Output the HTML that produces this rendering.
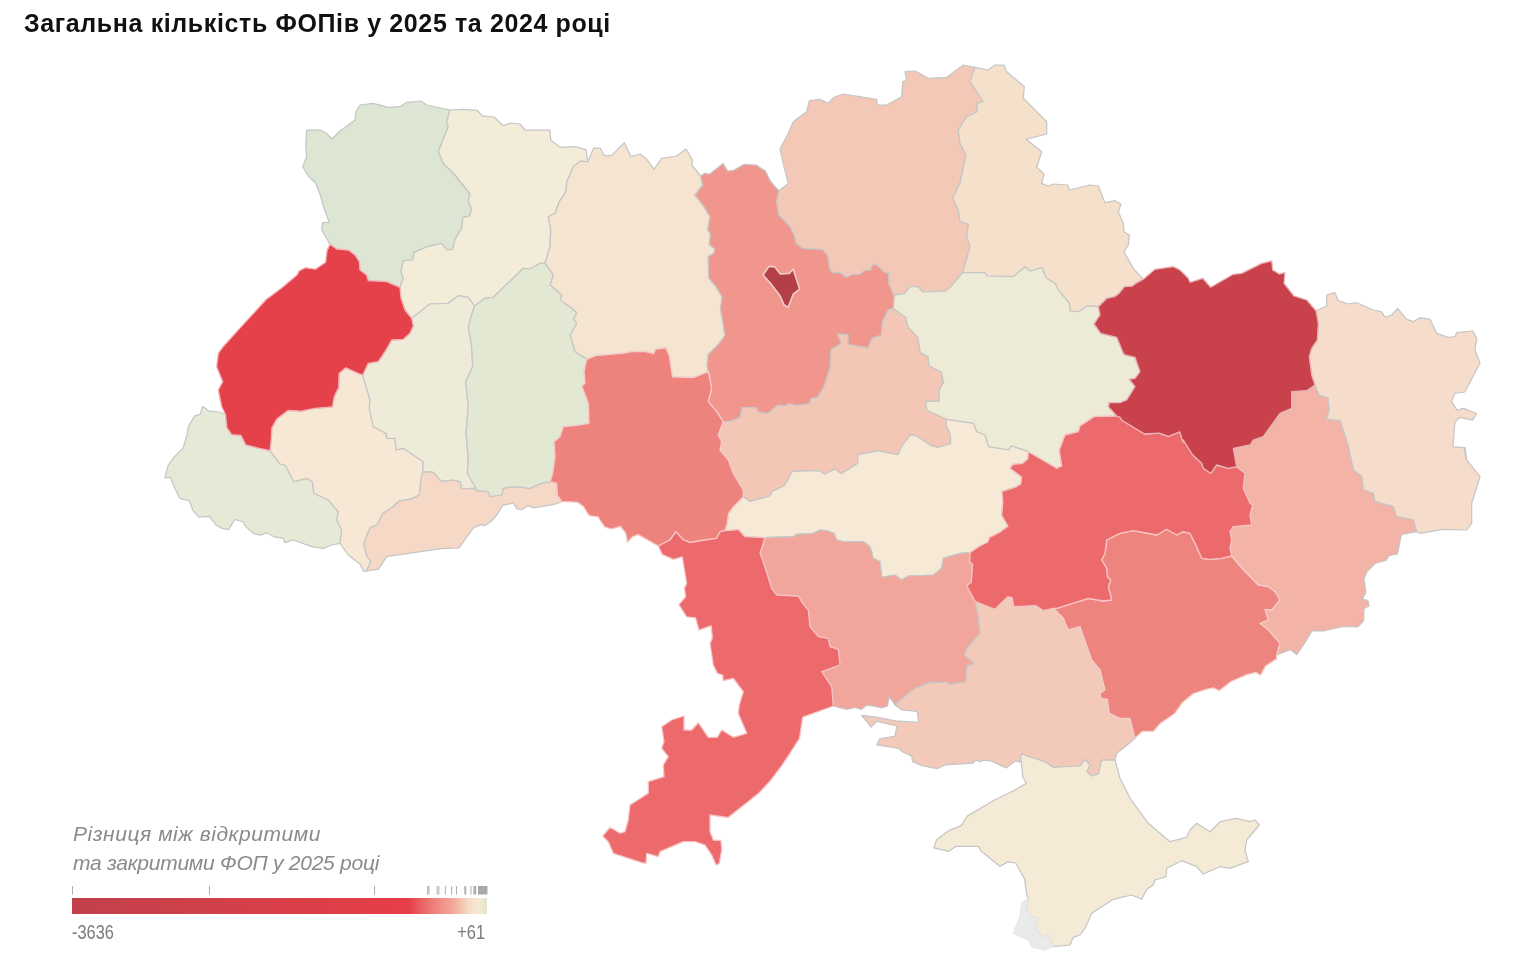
<!DOCTYPE html>
<html lang="uk">
<head>
<meta charset="utf-8">
<title>Загальна кількість ФОПів у 2025 та 2024 році</title>
<style>
html,body{margin:0;padding:0;background:#fff;}
body{width:1530px;height:975px;position:relative;overflow:hidden;font-family:"Liberation Sans",sans-serif;}
h1{position:absolute;left:24px;top:8px;margin:0;font-size:25px;line-height:30px;font-weight:700;color:#111;white-space:nowrap;letter-spacing:0.62px;}
svg.map{position:absolute;left:0;top:0;}
svg.map path{stroke:#c6c6c6;stroke-width:1.25;stroke-linejoin:round;}
.legend{position:absolute;left:72px;top:820px;width:415px;}
.legend .t{font-style:italic;font-size:21px;line-height:28px;color:#8a8a8a;white-space:nowrap;}
.legend .bar{position:absolute;left:0;top:78px;width:415px;height:16px;background:linear-gradient(90deg,#c1414b 0%,#e63e47 81%,#ee7a76 86.5%,#f2a99c 92%,#f5dcc4 95.5%,#f5ead3 98%,#dfe5cc 100%);}
.legend .lab{position:absolute;top:100px;font-size:19.5px;line-height:24px;color:#7a7a7a;transform:scaleX(0.84);}
</style>
</head>
<body>
<h1>Загальна кількість ФОПів у 2025 та 2024 році</h1>
<svg class="map" width="1530" height="975" viewBox="0 0 1530 975">
<path fill="#dde6d2" d="M330 244.3L321.7 230L322.7 222.3L329.3 222.3L324.3 209.3L320 194L315.7 183.3L308.3 176L302.7 166.7L306.7 156.7L305.7 146.7L306.7 130L320 130L326.7 133.3L331.7 139L340 131L348.3 125L355 120L356 111.7L360 105L373.3 103.3L388.3 107.3L400 106.7L406.7 102.3L421 101L426.7 105L450 110L446.7 121.7L448.3 126.7L438.3 151.7L443.3 163.3L455 175L470 194L468.3 200.7L471.7 209.3L469.3 216L462.7 217.7L461.7 228.3L455 239.3L452.7 249.3L446.7 250L441.7 243.3L427.3 246.7L414 252.3L412.7 260L403.3 260.7L401 271.7L403.3 278.3L400 287.3L386.7 281.7L368.3 280.7L366.7 275L360 270L359.3 261.7L355 255L348.3 250L336.7 249Z"/>
<path fill="#f3ecd8" d="M450 110L463.5 109.4L477.1 110.3L482.4 115.9L493.9 117L503.3 125.6L511 123L520 124L525 130L550 130L550.7 140L560 147.3L575 146.7L586 149.7L587.7 161.9L580.7 161L573.3 166.7L566.7 181.7L566 191.7L559.3 201.7L555 213.3L548.3 216.7L550.7 230L550 246.7L545 263.3L540 263.3L530 269L523.3 268.3L493.3 297.3L485 298.3L474.3 306L468.3 297.3L458.3 295.7L448.3 303.3L430 304L411.7 318.3L405 310L401 298.3L400 287.3L403.3 278.3L401 271.7L403.3 260.7L412.7 260L414 252.3L427.3 246.7L441.7 243.3L446.7 250L452.7 249.3L455 239.3L461.7 228.3L462.7 217.7L469.3 216L471.7 209.3L468.3 200.7L470 194L455 175L443.3 163.3L438.3 151.7L448.3 126.7L446.7 121.7Z"/>
<path fill="#e6e9d5" d="M340 543.3L331.7 545L323.3 548.3L311.7 546.7L293.3 540L285 542.7L283.3 538.3L274 536.8L266.9 532.8L259.9 535.2L253.6 533.6L245.7 526.6L243.4 521.9L234.8 519.5L228.5 529.7L221.4 528.1L215.9 525L209.6 516.4L198.7 517.1L193.2 510.9L189.2 500.7L179.8 498.3L174.3 487.3L170.4 477.1L164.9 477.9L168.1 465.3L175.1 455.9L183 448.1L186.9 435.5L188.5 426.1L194.7 415.9L200.2 414.3L202.6 406.5L209.6 411.2L219.1 412L225.5 414.5L226.9 427.7L231.6 434.7L241 435.5L245.7 444.9L258.3 448.1L270 450.7L280 464L285 465L294 481.7L306.7 478.3L312.3 481.7L314 493.3L328.3 500L338.3 511.7L336.7 520L341.7 530Z"/>
<path fill="#f6e8d4" d="M366.7 571L364 571.7L360 564L348.3 555L340 543.3L341.7 530L336.7 520L338.3 511.7L328.3 500L314 493.3L312.3 481.7L306.7 478.3L294 481.7L285 465L280 464L270 450.7L271.3 439L271.9 427.9L276.8 419L288 410.5L301.3 411.2L314.7 408.3L332.5 406.8L334.2 396.8L338.7 387.4L339.1 373.4L345.8 367.8L358 373.4L362.7 375L370 400L369.3 408.3L373.3 426.7L386 433.3L386.7 438.3L395 438.3L396 450L403.3 448.3L423.3 461.7L422.7 471.7L420.7 480.8L419.5 494.9L411.6 498.9L399.1 501.2L392 507.5L382.6 513.8L377.1 524.8L370 527.9L363.7 543.6L366.9 556.2L370.8 560.9Z"/>
<path fill="#eeecd8" d="M362.7 375L368.3 363.3L378.3 361.7L385 351.7L391.7 340L403.3 339.3L410 333.3L413.3 326L411.7 318.3L430 304L448.3 303.3L458.3 295.7L468.3 297.3L474.3 306L471.7 315L468.3 326.7L471.7 346.7L472.7 366.7L465.7 381.7L468.3 406.7L466 433.3L468.3 460L467.3 473.3L475 486.7L476.7 490.7L473.3 488.3L461.7 489L460 481.7L451.7 480L441.7 481.7L433.3 472.3L422.7 471.7L423.3 461.7L403.3 448.3L396 450L395 438.3L386.7 438.3L386 433.3L373.3 426.7L369.3 408.3L370 400Z"/>
<path fill="#f5d8c5" d="M561.7 501.7L553.5 504.6L533.5 507.9L527.9 505.7L521.9 509.5L516.8 509L513.5 502.8L502.4 505.7L497.9 513.5L491.2 521.3L484.6 525.7L481.2 524.6L473.4 527.9L459 548L441.2 548.6L422.3 551.3L386.7 556.7L378.3 569.3L366.7 571L370.8 560.9L366.9 556.2L363.7 543.6L370 527.9L377.1 524.8L382.6 513.8L392 507.5L399.1 501.2L411.6 498.9L419.5 494.9L420.7 480.8L422.7 471.7L433.3 472.3L441.7 481.7L451.7 480L460 481.7L461.7 489L473.3 488.3L476.7 490.7L488.3 491.7L490 496.7L501.7 495L503.3 488.3L509 487.2L520.2 486.8L529.1 488.6L533.5 486.8L541.3 483.4L550 481.7L556.7 483.3L557.3 495Z"/>
<path fill="#f5e5d0" d="M587.7 161.9L593.7 147.9L600.4 148.3L604.2 155.6L611.5 155.6L624.3 142.7L631 156.7L640 154L646.7 159.3L654 169.3L661.7 158.3L676.7 156L686 149L692.7 160L691.7 165L700.7 176L702.7 185L695 195L704 206.7L710 216.7L707.7 230L710.4 233.4L709.3 244.5L714.9 248.9L713.7 253.4L708.2 256.7L708.8 277.9L716 286.8L722.2 296.8L720.4 309L722.2 317.9L724.9 335.7L718.2 344.6L708.2 354.6L707.1 365.7L708.3 371.7L693.7 377.5L672.6 376.9L669.2 355.7L665.9 347.9L655.9 349.1L653.7 353.5L644.8 351.3L631.4 351.7L624.7 353.1L595.8 355.7L586.7 359.3L575 351.7L570 335L576.7 323.3L573.3 318.3L576.7 313.3L571.7 308.3L560 300L561.7 295L550 285L553.3 275L545 263.3L550 246.7L550.7 230L548.3 216.7L555 213.3L559.3 201.7L566 191.7L566.7 181.7L573.3 166.7L580.7 161Z"/>
<path fill="#e3e8d3" d="M545 263.3L553.3 275L550 285L561.7 295L560 300L571.7 308.3L576.7 313.3L573.3 318.3L576.7 323.3L570 335L575 351.7L586.7 359.3L584 371.7L585 383.3L581.7 386L588.3 403.3L589 423.3L575 425.7L563.3 426.7L560 436.7L554 441.7L555 456.7L552.7 473.3L550 481.7L541.3 483.4L533.5 486.8L529.1 488.6L520.2 486.8L509 487.2L503.3 488.3L501.7 495L490 496.7L488.3 491.7L476.7 490.7L475 486.7L467.3 473.3L468.3 460L466 433.3L468.3 406.7L465.7 381.7L472.7 366.7L471.7 346.7L468.3 326.7L471.7 315L474.3 306L485 298.3L493.3 297.3L523.3 268.3L530 269L540 263.3Z"/>
<path fill="#f0968d" d="M700.7 176L704.3 173.4L709.6 174.1L723.2 163.6L727.7 171.1L733.7 170.3L744.3 164.3L756.3 165.1L765.4 171.1L769.9 180.1L773.7 185.4L779 190.7L776.7 201.7L779 215L790 226.7L794.4 235.2L796 243.1L802.8 248.3L822.7 249.4L826.9 254.1L828.9 260.3L829.5 267.1L832.1 272.4L841 272.9L845.7 277.1L852.5 274.5L860.3 274L864.5 270.3L870.3 269.8L872.9 264.5L875 264L879.2 267.1L884.4 271.9L888.6 273.4L889.1 284.4L894.3 295.7L893.3 308.3L888 310L882.4 322.3L881.3 335.6L872.4 337.8L868 347.9L847.9 344.5L847.9 334.5L837.3 334.1L841.7 343.4L831.2 349.6L830.1 367.9L823.5 387.9L817.9 396.8L810.5 399L810.1 403.5L796.8 405.7L789 403.9L785.6 405.7L777.8 405.3L767.8 413.5L757.8 411.9L756.7 407.5L742.2 407.5L740 417.9L730 421.3L723.3 421.7L716.7 411.7L708.3 401.7L711.7 388.3L708.3 371.7L707.1 365.7L708.2 354.6L718.2 344.6L724.9 335.7L722.2 317.9L720.4 309L722.2 296.8L716 286.8L708.8 277.9L708.2 256.7L713.7 253.4L714.9 248.9L709.3 244.5L710.4 233.4L707.7 230L710 216.7L704 206.7L695 195L702.7 185Z"/>
<path fill="#f3c8b7" d="M779 190.7L784 186.7L788.3 183.3L784 166.7L780 149L788.3 133.3L793.3 121.7L806.7 111.7L809.3 100.7L820 99.3L828.3 103.3L834 97.3L843.3 94L876.7 99.3L877.3 105L886.7 105L901.7 96.7L902.7 81.7L906.7 80L905 71.7L915 71L928.3 78.3L946.7 77.3L963.3 65L975 67.3L970 81.7L983.3 101.7L976.7 103.3L977.3 111.7L966.7 116.7L958.3 130L960 143.3L966 155L960 183.3L952.7 198.3L958.3 210L960 221.7L968.3 224L966.7 236.7L970 246.7L962.7 272.7L951 286.5L944.8 291.2L922.8 292L918.1 286.5L910.2 286.5L904.7 293.6L897.7 294.4L894.3 295.7L889.1 284.4L888.6 273.4L884.4 271.9L879.2 267.1L875 264L872.9 264.5L870.3 269.8L864.5 270.3L860.3 274L852.5 274.5L845.7 277.1L841 272.9L832.1 272.4L829.5 267.1L828.9 260.3L826.9 254.1L822.7 249.4L802.8 248.3L796 243.1L794.4 235.2L790 226.7L779 215L776.7 201.7Z"/>
<path fill="#f5e0cc" d="M975 67.3L988.3 70L995 65L1004 65L1006.7 71.7L1024.3 86.7L1023.3 98.3L1046.7 121.7L1046.7 134L1026 139.3L1041.7 151.7L1036.7 167.3L1044 174L1041.7 183.3L1048.3 186L1053.3 184L1067.7 185L1069.3 190L1090 185L1098.3 186L1105 202.7L1115 200.7L1121 204L1118.3 211.7L1123.3 223.3L1124 231.7L1129.3 235L1128.3 245L1124 251.7L1133.3 268.3L1143.3 279.3L1135.7 283.4L1132.3 286.1L1124.6 286.7L1119 293.4L1114.5 296.7L1106.8 298.3L1098.3 306.7L1087.4 305.8L1079 311.5L1070.3 311.3L1069.1 302.9L1058.1 289.8L1055.5 284.1L1046 277.8L1041.9 267.5L1030.3 271L1025.1 267.1L1013.1 276.7L987.3 276L985 272.7L962.7 272.7L970 246.7L966.7 236.7L968.3 224L960 221.7L958.3 210L952.7 198.3L960 183.3L966 155L960 143.3L958.3 130L966.7 116.7L977.3 111.7L976.7 103.3L983.3 101.7L970 81.7Z"/>
<path fill="#f3c6b6" d="M893.3 308.3L905.8 317.8L908 326.7L918 337.8L920.2 352.3L928 356.8L929.1 365.7L941.4 372.3L943.6 382.3L939.2 390.1L939.2 401.3L925.4 401.3L926.9 410.2L946.7 419.3L945.8 424.6L950.3 434.6L950.7 443.5L938 447.5L931.4 445.8L921.4 439.1L915.8 435.7L910.2 435.1L901.3 446.9L898 454.7L885.8 452.4L878 450.7L857.9 454.7L857.9 463.1L841.3 473.6L834.6 469.1L824.6 474.2L820.1 470.7L792.3 471.3L784.5 485.8L772.3 491.4L770.1 495.8L750 501.4L743.3 496.7L743.3 490L733.3 473.3L728.3 460L720 450L721.7 441.7L718.3 435L723.3 421.7L730 421.3L740 417.9L742.2 407.5L756.7 407.5L757.8 411.9L767.8 413.5L777.8 405.3L785.6 405.7L789 403.9L796.8 405.7L810.1 403.5L810.5 399L817.9 396.8L823.5 387.9L830.1 367.9L831.2 349.6L841.7 343.4L837.3 334.1L847.9 334.5L847.9 344.5L868 347.9L872.4 337.8L881.3 335.6L882.4 322.3L888 310Z"/>
<path fill="#edebd6" d="M894.3 295.7L897.7 294.4L904.7 293.6L910.2 286.5L918.1 286.5L922.8 292L944.8 291.2L951 286.5L962.7 272.7L985 272.7L987.3 276L1013.1 276.7L1025.1 267.1L1030.3 271L1041.9 267.5L1046 277.8L1055.5 284.1L1058.1 289.8L1069.1 302.9L1070.3 311.3L1079 311.5L1087.4 305.8L1098.3 306.7L1100 315L1094 324L1100.7 333.3L1116.7 337.3L1123.3 353.3L1125 355L1135 357.3L1140 371.7L1135 378.3L1129.3 379.3L1135 386.7L1126.7 400L1120 402.7L1109.3 402.7L1108.3 406.7L1116.7 416L1094 416.7L1080 426L1078.3 431.7L1065 435L1059.3 450L1061.7 466L1056.7 468.3L1028.3 451.7L1011.7 446L1008.3 450L988.3 446.7L985 435L976.7 431.7L973.3 423.3L946.7 419.3L926.9 410.2L925.4 401.3L939.2 401.3L939.2 390.1L943.6 382.3L941.4 372.3L929.1 365.7L928 356.8L920.2 352.3L918 337.8L908 326.7L905.8 317.8L893.3 308.3Z"/>
<path fill="#f6dccb" d="M1316 310.7L1326.7 306L1326.7 295L1335 292.7L1338.3 300.7L1348.3 304L1356.7 302.7L1373.3 310L1381.7 311.7L1385 317.3L1391.7 315L1397.7 308.3L1406.7 319.3L1413.3 321.7L1420 317.7L1430 319.3L1436.7 333.3L1448.3 337.3L1455 336.7L1456.7 332.7L1472.7 331L1476.7 338.3L1475 350L1480 363.3L1464.8 392L1454.8 393.5L1451.5 401.3L1457 410.2L1463.7 408.4L1476.6 413.5L1472.6 420.2L1459.7 417.3L1454.8 422.4L1453 446.9L1464.1 447.6L1465.9 459.2L1465 447.3L1466.7 460L1480 476.7L1471.7 503.3L1471.7 523.3L1466.7 530L1443.3 529.3L1420 533.3L1416.7 531.7L1413.3 520L1396.7 516.7L1393.3 506.7L1375 501.7L1373.3 493.3L1363.3 490L1361.7 476.7L1353.3 470L1348.3 446.7L1340.2 420.9L1326.2 419.1L1329.1 410.2L1328 398L1319.1 395.7L1315 385L1311.7 375L1309.3 356.7L1311.7 348.3L1317.3 340L1318.3 323.3Z"/>
<path fill="#f3b3a6" d="M1416.7 531.7L1401.4 534.6L1397.4 553.9L1389.1 555.7L1386.3 560.2L1375.1 563.5L1366.9 571.7L1364 579.1L1365.8 592.4L1362.4 599.1L1368 600.7L1369.1 605.8L1364 608.7L1363.6 620.7L1358 626.9L1343.5 626.5L1323.5 630.9L1311.9 630.9L1305.7 641.4L1296.8 654.7L1290.1 649.6L1276.7 655L1280 643.3L1268.3 630L1260 623.3L1268.3 620L1265 609.3L1271.7 610L1280 600L1275 591.7L1268.3 586.7L1258.3 585L1246.7 573.3L1238.3 564L1231.7 556L1230 548.3L1231.7 540L1230 531.7L1233.3 526.7L1251.7 525L1250 515L1252.7 505L1250 503.3L1243.3 488.3L1245 473.3L1236.7 466.7L1233.3 448.3L1250 445L1253.3 440L1263.3 436.7L1280 413.3L1291.7 408.3L1291.7 391.7L1306.7 390.7L1315 385L1319.1 395.7L1328 398L1329.1 410.2L1326.2 419.1L1340.2 420.9L1348.3 446.7L1353.3 470L1361.7 476.7L1363.3 490L1373.3 493.3L1375 501.7L1393.3 506.7L1396.7 516.7L1413.3 520Z"/>
<path fill="#f6ead6" d="M946.7 419.3L973.3 423.3L976.7 431.7L985 435L988.3 446.7L1008.3 450L1011.7 446L1028.3 451.7L1027.9 458.8L1022.4 463.5L1013 464.3L1009.9 468.3L1021.6 476.9L1020.9 484L1015.4 487.1L1002 491.5L1002.8 502L1001.7 515.3L1008 526.3L1000.5 531.8L989.5 537.3L987.9 542L978.5 546.7L970 552.7L960 553.3L943.3 558.3L941.7 568.3L933.3 575L908.3 576L901.7 580L895 575L881.7 577.3L880 561.7L873.3 558.3L870 546.7L863.3 541.7L843.3 541.7L836.7 540L834 533.3L826.7 530.7L820 530L813.3 533.3L796.7 534.3L793.3 536.7L765 537.7L745 536.7L738.3 529.3L733.3 530L725 530.7L727.2 523.4L728.6 513.4L733.5 506.7L743.3 496.7L750 501.4L770.1 495.8L772.3 491.4L784.5 485.8L792.3 471.3L820.1 470.7L824.6 474.2L834.6 469.1L841.3 473.6L857.9 463.1L857.9 454.7L878 450.7L885.8 452.4L898 454.7L901.3 446.9L910.2 435.1L915.8 435.7L921.4 439.1L931.4 445.8L938 447.5L950.7 443.5L950.3 434.6L945.8 424.6Z"/>
<path fill="#f2a69b" d="M970 552.7L960 553.3L943.3 558.3L941.7 568.3L933.3 575L908.3 576L901.7 580L895 575L881.7 577.3L880 561.7L873.3 558.3L870 546.7L863.3 541.7L843.3 541.7L836.7 540L834 533.3L826.7 530.7L820 530L813.3 533.3L796.7 534.3L793.3 536.7L765 537.7L760 553.3L763.3 561.7L771.7 588.3L776.7 595L798.3 596L802.7 603.3L808.3 610L810 626.7L818.3 636.7L828.3 638.3L830 646.7L838.3 649.3L840 665L821.7 671.7L831.7 686.7L833.3 706L846.7 709.4L855.3 707.5L861.1 709.4L867.1 705.1L872.6 705.9L882 708L887.5 705.9L889.1 696.8L894.6 704L895 705L901.6 698.9L914.2 688.7L929.9 682.4L947.9 682.4L948.7 684.7L966 681.6L966.8 665.9L974.6 663.5L964.4 654.9L966.8 648.6L980 633.3L978.3 616.7L975.2 601.5L966.7 585.7L971.4 582.1L972.5 564L969.8 562.4Z"/>
<path fill="#f3c9b9" d="M975.2 601.5L978.3 616.7L980 633.3L966.8 648.6L964.4 654.9L974.6 663.5L966.8 665.9L966 681.6L948.7 684.7L947.9 682.4L929.9 682.4L914.2 688.7L901.6 698.9L895 705L901.6 709.8L917.3 711.4L918.6 722.4L895.3 720.8L874.9 716.9L861.6 715.3L871 727.1L876.8 721.3L896.9 726L895 736.1L879.6 738.9L876.8 744.9L898.5 748.3L903.2 752.2L911.8 756.2L912.6 761.6L922 765.6L936.9 768.7L945.6 764.8L973 763.2L975.4 760.1L980.1 761.6L984 760.1L991.1 760.9L1006 767.9L1015.4 760.9L1020.1 762.1L1020.7 757.3L1021.7 753.3L1026.7 756L1045 761.7L1053.3 767.3L1080 766L1085 759.3L1090 765L1086.7 771.7L1091.7 776L1098.3 774L1101.7 760L1115 760L1116.7 753.3L1123.3 748.3L1135 738.3L1130 718.3L1120 718.3L1109.3 713.3L1107.3 699.3L1101 698.3L1100 693.3L1105 690L1100 670L1091.7 660L1080 626.7L1068.3 630L1063.3 618.3L1053.3 608.3L1043.4 610.7L1035.6 605.6L1013.8 606.7L1012.2 597.8L1007.8 596.7L995 609.3Z"/>
<path fill="#f5ead6" d="M1020.7 757.3L1021.7 753.3L1026.7 756L1045 761.7L1053.3 767.3L1080 766L1085 759.3L1090 765L1086.7 771.7L1091.7 776L1098.3 774L1101.7 760L1115 760L1120 778.3L1130 798.3L1148.3 823.3L1170 841.7L1186.7 837.3L1190 830L1196.7 823.3L1210 831.7L1220 821.7L1236.7 818.3L1250 821.7L1255 820L1259.3 825L1246.7 840L1245 850L1248.3 861.7L1230 868.3L1220 866.7L1203.3 874L1196.7 866.7L1181.7 860.7L1166.7 868.3L1166 876.7L1155 880L1153.3 885L1146.7 889.3L1141.7 899.3L1131.7 895L1113.3 899.3L1091.7 913.3L1085 928.3L1080 935L1073.3 937.3L1070 945L1053.3 946.7L1048.3 935L1043.3 937.3L1035 928.3L1038.3 918.3L1030 916.7L1026.7 908.3L1028.3 898.3L1026.8 895.8L1024.6 879.1L1015.7 863L1007.9 861.9L1000.1 866.4L981.2 851.3L978.3 846.4L955.6 846.4L948.9 851.3L933.8 847.9L936.7 839.7L948.9 830.6L961.2 825.7L967.2 816.1L993.4 800.5L1013.5 790.7L1026.4 783.4L1022.8 776.7Z"/>
<path fill="#eaeaea" style="stroke:#e6e6e6" d="M1028.3 898.3L1021.7 903.3L1020 916.7L1013.3 933.3L1028.3 940L1031.7 946.7L1043.3 950L1053.3 946.7L1048.3 935L1043.3 937.3L1035 928.3L1038.3 918.3L1030 916.7L1026.7 908.3Z"/>
<path fill="#ee827c" style="stroke:#f8cdcb;stroke-width:1.3" d="M586.7 359.3L595.8 355.7L624.7 353.1L631.4 351.7L644.8 351.3L653.7 353.5L655.9 349.1L665.9 347.9L669.2 355.7L672.6 376.9L693.7 377.5L708.3 371.7L711.7 388.3L708.3 401.7L716.7 411.7L723.3 421.7L718.3 435L721.7 441.7L720 450L728.3 460L733.3 473.3L743.3 490L743.3 496.7L733.5 506.7L728.6 513.4L727.2 523.4L725 530.7L720 531.7L716.7 538.3L698.3 541L690 542.7L682.7 539.3L676 531.7L670 540L658.3 546L638.1 534.6L632.5 536.8L627.4 542.4L625.9 533.5L620.3 526.4L611.4 529.1L604.7 526.8L601.4 522.4L598 516.8L589.1 515.7L583.6 506.8L578 502.4L571.3 501.9L561.7 501.7L557.3 495L556.7 483.3L550 481.7L552.7 473.3L555 456.7L554 441.7L560 436.7L563.3 426.7L575 425.7L589 423.3L588.3 403.3L581.7 386L585 383.3L584 371.7Z"/>
<path fill="#ee847e" style="stroke:#f8cecb;stroke-width:1.3" d="M1231.7 556L1221.7 558.3L1210 559.3L1201.7 558.3L1196.7 546.7L1190 533.3L1183.3 531.7L1176.7 535L1166.7 529.3L1156.7 535L1133.3 530.7L1120 533.3L1106.7 540L1105 553.3L1101.7 560L1106.7 568.3L1107.3 576.7L1110.7 580L1108.3 586.7L1111.7 600L1103.3 601L1088.3 598.3L1056.7 608.3L1053.3 608.3L1063.3 618.3L1068.3 630L1080 626.7L1091.7 660L1100 670L1105 690L1100 693.3L1101 698.3L1107.3 699.3L1109.3 713.3L1120 718.3L1130 718.3L1135 738.3L1142.4 731.3L1153.5 731.3L1160.2 723.5L1174.7 713.5L1182.5 702.4L1193.6 693.5L1206.9 689.1L1213.6 687.9L1219.2 690.8L1231.4 681.3L1247 674.6L1255.9 672.4L1260.3 675.3L1265.9 665.7L1276.6 659L1276.7 655L1280 643.3L1268.3 630L1260 623.3L1268.3 620L1265 609.3L1271.7 610L1280 600L1275 591.7L1268.3 586.7L1258.3 585L1246.7 573.3L1238.3 564Z"/>
<path fill="#ec6a6b" style="stroke:#f7c3c4;stroke-width:1.3" d="M658.3 546L662.3 554.5L673.4 559.4L682.3 556.8L686.7 583.5L684.5 587.9L685.6 596.8L678.9 604.6L686.7 616.8L695.6 617.9L699 630.2L711.2 625.7L712.3 638L710.1 643.5L713.3 665L717.3 673.3L722.7 675L723.3 680.7L733.3 678.3L743.3 691.7L739.3 705L738.3 713.3L746.7 733.3L733.3 737.3L721.7 730L717.3 737.3L708.3 737.3L698.3 722.7L691.7 730L684 730L684 716L671.7 720L661.7 726.7L664 741.7L661.7 748.3L668.3 756.7L663.3 765L664 776.7L648.3 781.7L648.3 793.3L630 805L628.3 820L625 831.7L620 833.3L610 827.3L602.7 836L608.3 841.7L613.3 853.3L641.7 862.7L646 863.3L646.7 853.3L658.3 856.7L660 851.7L683.3 841.7L695 841.7L705 845L711.7 855L716 865L719.3 863.3L721.7 850L721 840.7L713.3 840L710 831.7L710 815L728.1 817.5L747 802.6L759.5 792.4L770.5 780.6L782.3 764.9L794.1 746.9L799.5 738.3L802.7 717.1L813.3 713.3L833.3 706L831.7 686.7L821.7 671.7L840 665L838.3 649.3L830 646.7L828.3 638.3L818.3 636.7L810 626.7L808.3 610L802.7 603.3L798.3 596L776.7 595L771.7 588.3L763.3 561.7L760 553.3L765 537.7L745 536.7L738.3 529.3L733.3 530L725 530.7L720 531.7L716.7 538.3L698.3 541L690 542.7L682.7 539.3L676 531.7L670 540Z"/>
<path fill="#ec6a6b" style="stroke:#f7c3c4;stroke-width:1.3" d="M1028.3 451.7L1056.7 468.3L1061.7 466L1059.3 450L1065 435L1078.3 431.7L1080 426L1094 416.7L1116.7 416L1120.1 417.3L1121.9 420.2L1144.6 434L1159 433.1L1168.6 436.3L1179.7 431.8L1182.9 442L1183.3 440L1192.7 455L1201.7 463.3L1203.3 468.3L1210.7 473.3L1216.7 465L1228.3 468.3L1236.7 466.7L1245 473.3L1243.3 488.3L1250 503.3L1252.7 505L1250 515L1251.7 525L1233.3 526.7L1230 531.7L1231.7 540L1230 548.3L1231.7 556L1221.7 558.3L1210 559.3L1201.7 558.3L1196.7 546.7L1190 533.3L1183.3 531.7L1176.7 535L1166.7 529.3L1156.7 535L1133.3 530.7L1120 533.3L1106.7 540L1105 553.3L1101.7 560L1106.7 568.3L1107.3 576.7L1110.7 580L1108.3 586.7L1111.7 600L1103.3 601L1088.3 598.3L1056.7 608.3L1053.3 608.3L1043.4 610.7L1035.6 605.6L1013.8 606.7L1012.2 597.8L1007.8 596.7L995 609.3L975.2 601.5L966.7 585.7L971.4 582.1L972.5 564L969.8 562.4L970 552.7L978.5 546.7L987.9 542L989.5 537.3L1000.5 531.8L1008 526.3L1001.7 515.3L1002.8 502L1002 491.5L1015.4 487.1L1020.9 484L1021.6 476.9L1009.9 468.3L1013 464.3L1022.4 463.5L1027.9 458.8Z"/>
<path fill="#e5414a" style="stroke:#f5b3b7;stroke-width:1.3" d="M225.5 414.5L221.7 406.7L218.3 390L222.7 381.7L216.7 366.7L218.3 353.3L223.5 346.2L239.2 328.9L265.9 299.8L281.6 288.1L297.3 274.7L298.9 271.1L305.2 267.7L315.4 269.2L325.6 262.2L327.1 250.4L330 244.3L336.7 249L348.3 250L355 255L359.3 261.7L360 270L366.7 275L368.3 280.7L386.7 281.7L400 287.3L401 298.3L405 310L411.7 318.3L413.3 326L410 333.3L403.3 339.3L391.7 340L385 351.7L378.3 361.7L368.3 363.3L362.7 375L358 373.4L345.8 367.8L339.1 373.4L338.7 387.4L334.2 396.8L332.5 406.8L314.7 408.3L301.3 411.2L288 410.5L276.8 419L271.9 427.9L271.3 439L270 450.7L258.3 448.1L245.7 444.9L241 435.5L231.6 434.7L226.9 427.7Z"/>
<path fill="#c9414a" style="stroke:#e9b3b7;stroke-width:1.3" d="M1143.3 279.3L1155 269.3L1173.3 266.7L1180 270L1188.3 278.3L1190 282.3L1202.7 278.3L1210.7 287.3L1233.3 274.3L1241.7 273.3L1261.7 263.3L1271.7 261L1272.7 270L1279.3 274L1285 272.7L1284 283.3L1294 296L1306.7 300L1316 310.7L1318.3 323.3L1317.3 340L1311.7 348.3L1309.3 356.7L1311.7 375L1315 385L1306.7 390.7L1291.7 391.7L1291.7 408.3L1280 413.3L1263.3 436.7L1253.3 440L1250 445L1233.3 448.3L1236.7 466.7L1228.3 468.3L1216.7 465L1210.7 473.3L1203.3 468.3L1201.7 463.3L1192.7 455L1183.3 440L1182.9 442L1179.7 431.8L1168.6 436.3L1159 433.1L1144.6 434L1121.9 420.2L1120.1 417.3L1116.7 416L1108.3 406.7L1109.3 402.7L1120 402.7L1126.7 400L1135 386.7L1129.3 379.3L1135 378.3L1140 371.7L1135 357.3L1125 355L1123.3 353.3L1116.7 337.3L1100.7 333.3L1094 324L1100 315L1098.3 306.7L1106.8 298.3L1114.5 296.7L1119 293.4L1124.6 286.7L1132.3 286.1L1135.7 283.4Z"/>
<path fill="#b33f49" style="stroke:#efcdc9;stroke-width:1.6" d="M763 275L768.8 266.6L774.5 266.6L780.3 274L789.2 273.4L793.2 269.2L799.6 289.1L793.4 293.8L788.1 307.4L784 304.8L779.8 295.4L771.4 284.4Z"/>
</svg>
<div class="legend">
<div class="t" style="position:absolute;left:1px;top:0px;letter-spacing:0.55px">Різниця між відкритими</div>
<div class="t" style="position:absolute;left:1px;top:29px;letter-spacing:-0.26px">та закритими ФОП у 2025 році</div>
<svg style="position:absolute;left:0;top:66.3px;overflow:visible" width="416" height="10" viewBox="0 0 416 10" fill="#222" fill-opacity="0.36"><rect x="0.0" y="0" width="1" height="8.5"/><rect x="137.0" y="0" width="1" height="8.5"/><rect x="302.0" y="0" width="1" height="8.5"/><rect x="355.2" y="0" width="1" height="8.5"/><rect x="356.4" y="0" width="1" height="8.5"/><rect x="364.7" y="0" width="1" height="8.5"/><rect x="366.4" y="0" width="1" height="8.5"/><rect x="372.9" y="0" width="1" height="8.5"/><rect x="379.1" y="0" width="1" height="8.5"/><rect x="384.0" y="0" width="1" height="8.5"/><rect x="392.3" y="0" width="1" height="8.5"/><rect x="393.3" y="0" width="1" height="8.5"/><rect x="398.5" y="0" width="1" height="8.5"/><rect x="401.3" y="0" width="1" height="8.5"/><rect x="402.3" y="0" width="1" height="8.5"/><rect x="403.1" y="0" width="1" height="8.5"/><rect x="406.0" y="0" width="1" height="8.5"/><rect x="406.8" y="0" width="1" height="8.5"/><rect x="407.6" y="0" width="1" height="8.5"/><rect x="408.4" y="0" width="1" height="8.5"/><rect x="409.2" y="0" width="1" height="8.5"/><rect x="410.0" y="0" width="1" height="8.5"/><rect x="411.0" y="0" width="1" height="8.5"/><rect x="412.0" y="0" width="1" height="8.5"/><rect x="412.8" y="0" width="1" height="8.5"/><rect x="413.7" y="0" width="1" height="8.5"/><rect x="414.5" y="0" width="1" height="8.5"/></svg>
<div class="bar"></div>
<div class="lab" style="left:0px;transform-origin:0 0">-3636</div>
<div class="lab" style="right:2px;transform-origin:100% 0">+61</div>
</div>
</body>
</html>
